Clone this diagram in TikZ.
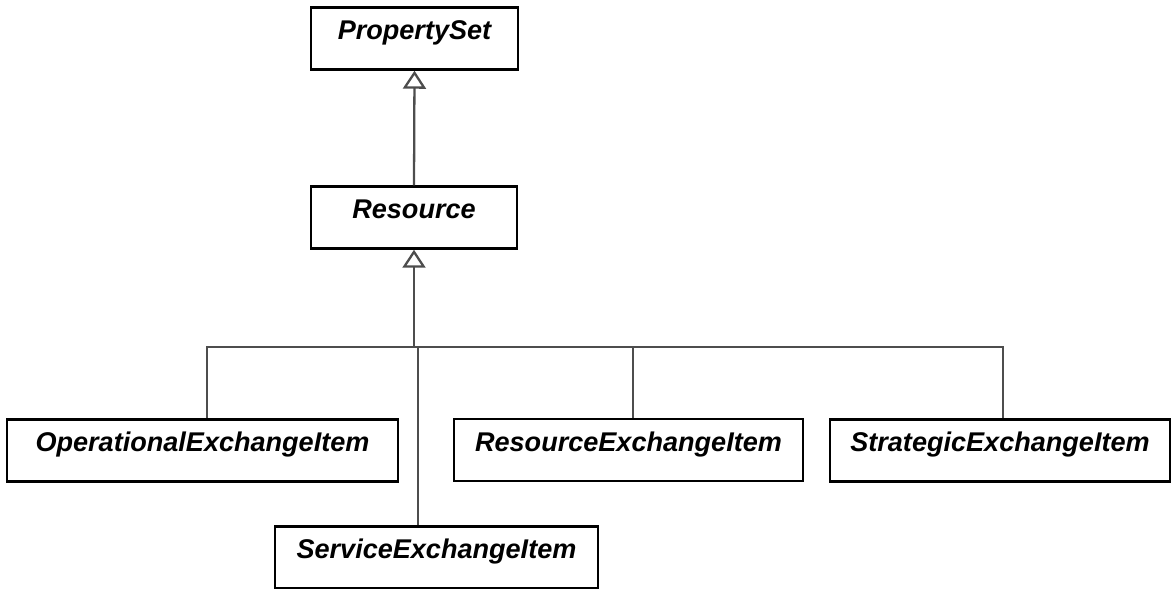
\documentclass[tikz,border=0pt]{standalone}
\usepackage{fontspec}
\setmainfont{Liberation Sans}
\usepackage{tikz}
\usetikzlibrary{arrows.meta,positioning}
\definecolor{linegray}{HTML}{4D4D4D}

\begin{document}
\begin{tikzpicture}[class/.style={draw=black, line width=1.4pt, fill=white, inner xsep=0pt, inner ysep=0pt, minimum width=#1, text height=0.64cm, text depth=0.6cm, font=\fontsize{15.4}{18}\selectfont\bfseries\itshape},
  conn/.style={draw=linegray, line width=1.3pt},
  gen/.style={conn, -{Triangle[open, length=0.36cm, width=0.46cm]}}]
\path[use as bounding box] (0,0) rectangle (23.44,-11.78);
\node[class=4.14cm] (PropertySet) at (8.29,-0.77) {PropertySet};
\node[class=4.12cm] (Resource) at (8.28,-4.35) {Resource};
\node[class=7.82cm] (OpEx) at (4.05,-9.01) {OperationalExchangeItem};
\node[class=6.98cm] (ResEx) at (12.57,-9.0) {ResourceExchangeItem};
\node[class=6.8cm] (StratEx) at (20.0,-9.01) {StrategicExchangeItem};
\node[class=6.46cm] (SvcEx) at (8.73,-11.15) {ServiceExchangeItem};
\coordinate (bus) at (8.28,-6.94);
\coordinate (svc) at (8.36,-6.94);
\draw[gen] (Resource.north) -- (PropertySet.south);
\draw[gen] (bus) -- (Resource.south);
\draw[conn] ([xshift=0.09cm]OpEx.north) |- (bus) -| ([xshift=0.06cm]StratEx.north);
\draw[conn] ([xshift=0.09cm]ResEx.north) -- ([xshift=0.09cm]ResEx.north |- bus);
\draw[conn] (svc) -- (svc |- SvcEx.north);
\end{tikzpicture}
\end{document}
